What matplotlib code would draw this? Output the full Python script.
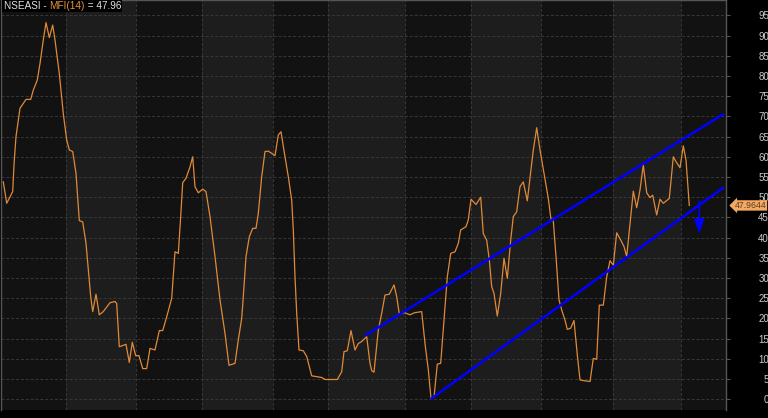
import numpy as np
import matplotlib.pyplot as plt
import matplotlib.transforms as mtransforms
from matplotlib.patches import Rectangle

plt.rcParams['font.family'] = ['Liberation Sans', 'DejaVu Sans']

# MFI(14): bar position and value
bar_x = [3.3, 6.7, 12.7, 14, 16, 20, 26, 30.7, 33.3, 37.3, 40, 43.3, 46, 49.3, 52.7, 55,
         59.3, 63.3, 66.7, 69.3, 72.7, 76, 79.3, 82.7, 86, 88.3, 90.7, 92.7, 96, 99.3,
         103.3, 110, 115, 116.7, 119.3, 126, 129.3, 132.3, 135.7, 139, 142.7, 146.7, 150,
         155, 159.3, 162.7, 166.7, 171.7, 175, 178.3, 180.7, 182.7, 186, 190, 192.7, 195,
         198.3, 202.7, 206, 210, 215, 220, 225, 229, 235, 238.3, 241.7, 243.3, 246, 249.3,
         252.7, 256, 258.3, 261.7, 265, 268.3, 272.7, 275, 278.3, 281, 285, 288.3, 291.7,
         293.3, 295, 296.7, 299, 303.3, 306.7, 311.7, 316.7, 321.7, 325, 330, 337.3, 341.7,
         344, 347.3, 351, 355, 358.3, 361.7, 366.7, 370, 371.7, 374, 378.3, 381.7, 385,
         389.3, 394, 396.7, 399.3, 405, 410, 414.3, 421.7, 425, 428.3, 431, 434, 437.3,
         440.7, 444.3, 447.3, 450.7, 455, 458.3, 460.7, 466, 468.3, 471, 476, 480.7, 483.3,
         486.7, 489.3, 491.7, 494, 497.3, 500.7, 504, 507.3, 510.7, 513.3, 516.7, 520,
         523.3, 527.3, 530, 533.3, 536.7, 540, 544, 548.3, 551, 553.3, 556, 559, 561.7, 565,
         567.3, 570.7, 574, 577.3, 580, 584, 590, 593.3, 596.7, 599.3, 603.3, 606.7, 610,
         613.3, 616.7, 620.7, 624, 626.7, 630, 633.3, 636.7, 640, 643.3, 646.7, 650, 652.7,
         656.7, 660, 663.3, 669.3, 673.3, 676, 680, 683.3, 686, 689.3]
mfi = [53.8, 48.5, 51.4, 58, 65, 72, 74.2, 74.2, 76.5, 79, 83.1, 88.9, 93.2, 89.5, 92.6, 88.9,
       80.6, 70.7, 64.1, 61.7, 61.3, 55.9, 44.2, 43.9, 38.6, 32, 25.4, 21.7, 26, 20.9,
       21.7, 23.9, 24.2, 23.7, 13, 13.6, 9.1, 14.1, 10.8, 10.8, 7.6, 7.6, 12.6,
       12.2, 17, 17, 20.4, 25, 36.5, 36.1, 45.2, 53.6, 54.7, 57.5, 60, 52.6,
       51.1, 52, 51.4, 45.2, 35.3, 24.6, 16.3, 8.4, 8.9, 14.7, 20, 25.4, 35.3, 40.2,
       42.3, 42.3, 46, 55.1, 61.3, 61.4, 60.7, 60.3, 65.4, 66.2, 60, 55.1, 49.3,
       41.9, 30.3, 21.3, 12.2, 12, 10.6, 5.8, 5.6, 5.4, 4.9, 4.9, 4.9, 6.8,
       11.8, 12, 17, 12.2, 13.8, 14.3, 15.5, 8.9, 7.1, 6.7, 17.1, 21.3, 25.8,
       26, 28.3, 25.4, 21.1, 21.4, 20.9, 21.4, 21.7, 13.8, 7.3, 0.2, 0.5, 8.7,
       8.9, 20.4, 30.3, 36.1, 36.5, 38.6, 41.9, 42.7, 44.4, 49.5, 48.2, 50, 41,
       39.4, 34.5, 27.9, 26.2, 20.6, 26.2, 34.9, 29.9, 39.4, 45.2, 46.4, 52.6,
       53.8, 49.1, 54.7, 61.7, 67.2, 61.7, 55.9, 49.7, 44.5, 44.2, 35.3, 24.6, 22.1, 19.6,
       17.3, 17.6, 19.5, 11, 4.8, 4.6, 4.4, 10.1, 9.9, 23.3, 23.3, 30.3, 34.3,
       33.2, 41.2, 39.4, 37.8, 35.3, 43.5, 51.5, 47.4, 51.8, 58, 51.1, 49.9, 50.5,
       45.6, 49.5, 48.5, 49.7, 60, 58.8, 57.3, 62.7, 59.2, 47.96]
last_value = 47.9644

# trend channel and arrow
upper_x, upper_y = [366, 723], [15.9, 70.5]
lower_x, lower_y = [431.7, 723], [0.25, 52.3]
arrow_x, arrow_from, arrow_to = 699.3, 49.1, 40.9

band_edges = [1, 66, 136, 202, 273, 328, 405, 471, 541, 613, 681, 726]
yticks = list(range(0, 100, 5))

W, H = 768, 418
fig = plt.figure(figsize=(W / 100, H / 100), dpi=100, facecolor='black')
ax = fig.add_axes([1 / W, 8 / H, 725 / W, 410 / H])
ax.set_facecolor('#121212')
ax.set_xlim(1, 726)
ax.set_ylim(-2.65, 98.8)

# alternating period bands
for i in range(len(band_edges) - 1):
    if i % 2 == 1:
        ax.axvspan(band_edges[i], band_edges[i + 1], color='#1d1d1d', lw=0, zorder=0)
for e in band_edges[1:-1]:
    ax.axvline(e, color='#383838', ls=(0, (3, 2)), lw=0.7, zorder=1)
for t in yticks:
    ax.axhline(t, color='#383838', ls=(0, (3, 2)), lw=0.7, zorder=1)

ax.plot(bar_x, mfi, color='#e08a38', lw=0.9, zorder=3)
ax.plot(upper_x, upper_y, color='#0000ff', lw=1.8, zorder=4)
ax.plot(lower_x, lower_y, color='#0000ff', lw=1.8, zorder=4)
ax.annotate('', xy=(arrow_x, arrow_to), xytext=(arrow_x, arrow_from),
            arrowprops=dict(arrowstyle='-|>,head_length=0.9,head_width=0.3',
                            color='#0000ff', lw=1.2, shrinkA=0, shrinkB=0), zorder=4)

# axes styling
ax.set_xticks([])
ax.yaxis.tick_right()
ax.set_yticks(yticks)
ax.set_yticklabels([str(t) for t in yticks])
ax.tick_params(axis='y', length=3, color='#555555', labelcolor='#cccccc',
               labelsize=7, pad=28)
for lbl in ax.get_yticklabels():
    lbl.set_horizontalalignment('right')
for side in ['left', 'top', 'right']:
    ax.spines[side].set_color('#555555')
    ax.spines[side].set_linewidth(1)
ax.spines['bottom'].set_visible(False)

# last-value tag
trans = mtransforms.blended_transform_factory(ax.transAxes, ax.transData)
ax.text(1.012, last_value, f'{last_value:.4f}', transform=trans, fontsize=6.3,
        color='#5a3d20', va='center', ha='left', clip_on=False, zorder=6,
        bbox=dict(boxstyle='larrow,pad=0.08', fc='#f4a862', ec='none'))

# header legend
fig.canvas.draw()
r = fig.canvas.get_renderer()
x = 4
parts = [('NSEASI - ', '#e0e0e0'), ('MFI(14)', '#e8923a'), (f' = {last_value:.2f}', '#e0e0e0')]
for s, c in parts:
    t = fig.text(x / W, 1 - 6 / H, s, color=c, fontsize=7.2, va='center', ha='left', zorder=10)
    x += t.get_window_extent(r).width
fig.patches.append(Rectangle((2 / W, 1 - 12 / H), (x - 1) / W, 12 / H,
                             transform=fig.transFigure, fc='black', ec='none', zorder=9))

fig.savefig('out.png', dpi=100, facecolor='black')
